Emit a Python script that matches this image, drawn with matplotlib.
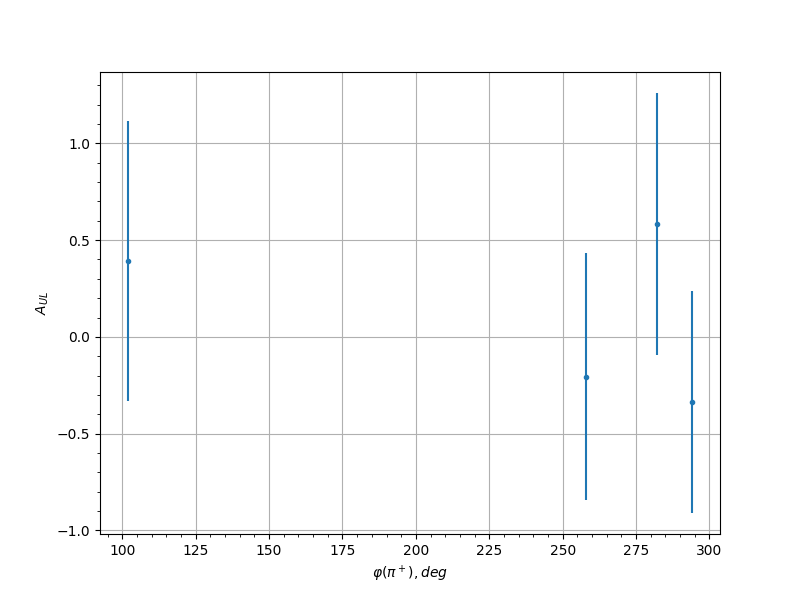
import matplotlib
matplotlib.use("Agg")
import matplotlib.pyplot as plt

phi = [102, 258, 282, 294]
a_ul = [0.392, -0.207, 0.582, -0.336]
a_err = [0.725, 0.638, 0.678, 0.574]

fig, ax = plt.subplots(figsize=(8, 6), dpi=100)
ax.errorbar(phi, a_ul, yerr=a_err, fmt='.')
ax.set_xlabel(r'$\varphi(\pi^+), deg$')
ax.set_ylabel(r'$A_{UL}$')
ax.minorticks_on()
ax.grid(True)

fig.savefig("out.png")
